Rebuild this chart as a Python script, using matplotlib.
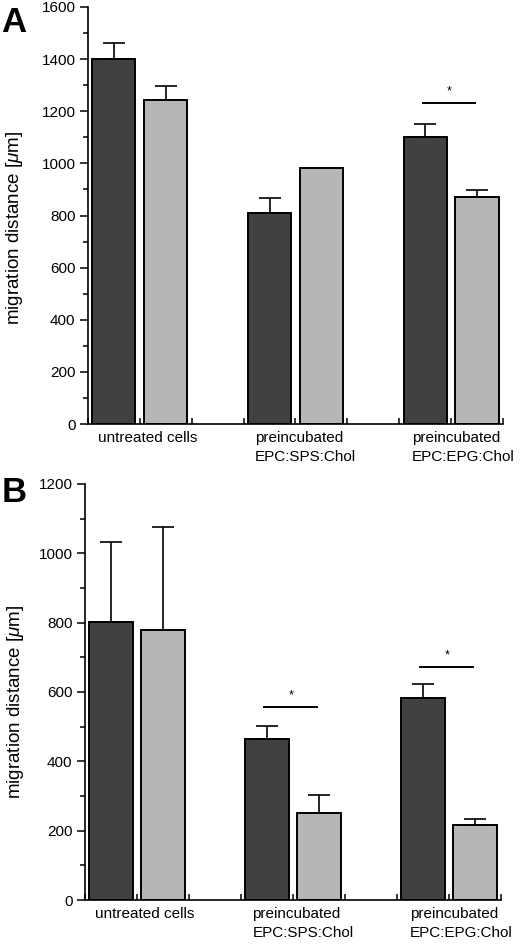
import matplotlib
matplotlib.use("Agg")
import matplotlib.pyplot as plt
import matplotlib.transforms as mtransforms
from matplotlib.ticker import MultipleLocator

plt.rcParams['font.family'] = ['Liberation Sans', 'DejaVu Sans']
plt.rcParams['mathtext.fontset'] = 'custom'
plt.rcParams['mathtext.rm'] = 'Liberation Sans'
plt.rcParams['mathtext.it'] = 'Liberation Sans:italic'

# data
groups = ["untreated cells", "preincubated\nEPC:SPS:Chol", "preincubated\nEPC:EPG:Chol"]

a_dark = [1400, 810, 1102]
a_dark_err = [63, 58, 48]
a_light = [1242, 982, 870]
a_light_err = [56, 0, 28]
a_sig_groups = [2]
a_sig_heights = [1233]

b_dark = [802, 463, 584]
b_dark_err = [231, 38, 38]
b_light = [779, 252, 216]
b_light_err = [298, 50, 17]
b_sig_groups = [1, 2]
b_sig_heights = [557, 673]

dark = '#414141'
light = '#b6b6b6'


def panel(ax, dvals, derr, lvals, lerr, sig_groups, sig_heights, ymax):
    xd = [3 * i + 0.5 for i in range(len(groups))]
    xl = [3 * i + 1.5 for i in range(len(groups))]
    ax.bar(xd, dvals, width=0.83, color=dark, edgecolor='black', linewidth=1.4, zorder=2)
    ax.bar(xl, lvals, width=0.83, color=light, edgecolor='black', linewidth=1.4, zorder=2)
    ax.errorbar(xd, dvals, yerr=[[0] * len(dvals), derr], fmt='none', ecolor='black',
                elinewidth=1.2, capsize=8, capthick=1.2, zorder=1)
    ax.errorbar(xl, lvals, yerr=[[0] * len(lvals), lerr], fmt='none', ecolor='black',
                elinewidth=1.2, capsize=8, capthick=1.2, zorder=1)

    # significance bars
    for g, h in zip(sig_groups, sig_heights):
        ax.plot([3 * g + 0.45, 3 * g + 1.47], [h, h], color='black', linewidth=1.4)
        ax.text(3 * g + 0.96, h + ymax * 0.027, '*', ha='center', va='center', fontsize=9)

    ax.set_xlim(0, 8)
    ax.set_ylim(0, ymax)
    ax.spines['top'].set_visible(False)
    ax.spines['right'].set_visible(False)
    ax.spines['left'].set_linewidth(1.2)
    ax.spines['bottom'].set_linewidth(1.2)
    ax.set_xticks(range(0, 9))
    ax.set_xticklabels([])
    ax.tick_params(axis='x', direction='in', length=4, width=1.1)
    ax.yaxis.set_major_locator(MultipleLocator(200))
    ax.yaxis.set_minor_locator(MultipleLocator(100))
    ax.tick_params(axis='y', which='major', direction='out', length=6, width=1.1,
                   labelsize=11, pad=3)
    ax.tick_params(axis='y', which='minor', direction='out', length=3.5, width=1.1)

    trans = mtransforms.blended_transform_factory(ax.transData, ax.transAxes)
    label_x = [0.2, 3.22, 6.25]
    for x, name in zip(label_x, groups):
        ax.text(x, -0.016, name, transform=trans, ha='left', va='top',
                fontsize=11, linespacing=1.5)

    ax.set_ylabel(r'migration distance [$\mu$m]', fontsize=13.5)
    ax.yaxis.label.set_va('center')


fig = plt.figure(figsize=(5.2, 9.44), dpi=100)
ax1 = fig.add_axes([0.1692, 0.5508, 0.798, 0.4418])
ax2 = fig.add_axes([0.1635, 0.0466, 0.800, 0.4407])

panel(ax1, a_dark, a_dark_err, a_light, a_light_err, a_sig_groups, a_sig_heights, 1600)
panel(ax2, b_dark, b_dark_err, b_light, b_light_err, b_sig_groups, b_sig_heights, 1200)
ax1.yaxis.set_label_coords(-0.176, 0.47)
ax2.yaxis.set_label_coords(-0.168, 0.476)

fig.text(0.003, 0.9664, 'A', fontsize=25, fontweight='bold', va='baseline')
fig.text(0.003, 0.4685, 'B', fontsize=25, fontweight='bold', va='baseline')

fig.savefig('out.png', dpi=100)
